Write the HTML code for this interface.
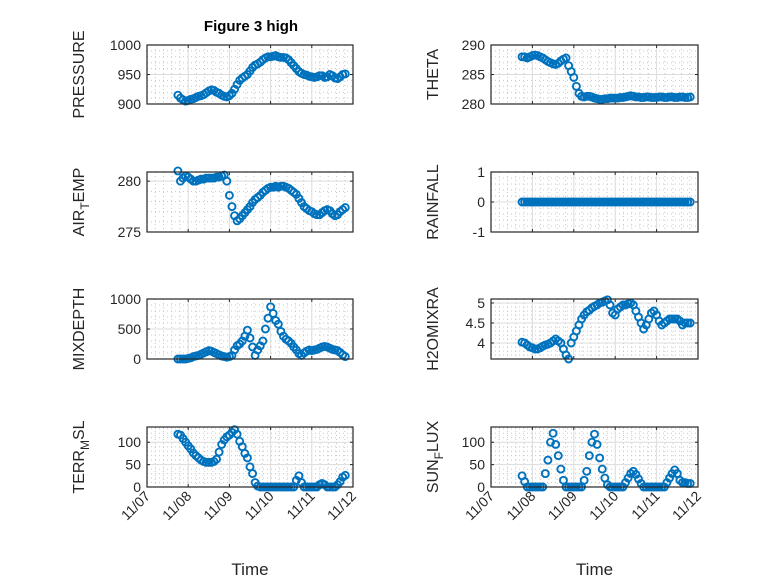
<!DOCTYPE html>
<html><head><meta charset="utf-8"><style>
body{margin:0;background:#fff;}
svg{font-family:"Liberation Sans",sans-serif;}
</style></head><body>
<svg id="fig" width="778" height="583" viewBox="0 0 778 583">
<rect width="778" height="583" fill="#fff"/>
<text x="251" y="31" text-anchor="middle" font-weight="bold" font-size="15" fill="#000">Figure 3 high</text>
</svg>
<script>
const days=[0.75,0.8125,0.875,0.9375,1.0,1.0625,1.125,1.1875,1.25,1.3125,1.375,1.4375,1.5,1.5625,1.625,1.6875,1.75,1.8125,1.875,1.9375,2.0,2.0625,2.125,2.1875,2.25,2.3125,2.375,2.4375,2.5,2.5625,2.625,2.6875,2.75,2.8125,2.875,2.9375,3.0,3.0625,3.125,3.1875,3.25,3.3125,3.375,3.4375,3.5,3.5625,3.625,3.6875,3.75,3.8125,3.875,3.9375,4.0,4.0625,4.125,4.1875,4.25,4.3125,4.375,4.4375,4.5,4.5625,4.625,4.6875,4.75,4.8125];
const xTickLabels=["11/07","11/08","11/09","11/10","11/11","11/12"];
const pressure=[915,910,907,905,906,908,909,911,913,914,916,919,922,924,923,920,918,915,913,912,914,918,925,933,940,944,947,950,956,962,966,968,971,975,978,980,980,981,982,980,979,979,978,975,970,965,960,955,952,950,949,947,946,945,946,948,948,945,946,950,948,944,943,946,950,951];
const theta=[288,288,287.8,288,288.2,288.3,288.2,288,287.8,287.5,287.2,287,286.8,286.7,286.9,287.3,287.6,287.8,286.5,285.5,284.5,283,281.8,281.3,281.2,281.3,281.3,281.2,281,280.9,280.8,280.8,280.9,280.9,281,281,281,281,281.1,281.1,281.2,281.3,281.4,281.3,281.2,281.2,281.1,281.1,281.2,281.2,281.1,281.1,281.1,281.2,281.2,281.1,281.1,281.2,281.2,281.1,281.1,281.2,281.2,281.1,281.1,281.2];
const airTemp=[281.0,280.0,280.3,280.5,280.4,280.2,280.0,280.0,280.1,280.2,280.2,280.3,280.3,280.3,280.3,280.4,280.4,280.5,280.6,280.0,278.6,277.5,276.6,276.1,276.3,276.6,276.9,277.2,277.5,277.9,278.2,278.4,278.6,278.9,279.1,279.3,279.4,279.4,279.5,279.4,279.5,279.5,279.4,279.3,279.1,278.9,278.7,278.3,277.9,277.5,277.3,277.1,277.0,276.8,276.7,276.7,276.9,277.1,277.2,277.1,276.8,276.6,276.7,277.0,277.2,277.4];
const rainfall=[0,0,0,0,0,0,0,0,0,0,0,0,0,0,0,0,0,0,0,0,0,0,0,0,0,0,0,0,0,0,0,0,0,0,0,0,0,0,0,0,0,0,0,0,0,0,0,0,0,0,0,0,0,0,0,0,0,0,0,0,0,0,0,0,0,0];
const mixDepth=[0,0,0,0,10,20,40,50,60,80,100,120,140,130,110,90,70,50,40,30,40,60,150,220,250,300,380,480,350,200,60,150,220,300,500,680,870,760,640,580,460,380,330,300,260,200,150,90,60,100,130,150,140,150,160,180,200,210,200,180,160,150,140,110,70,40];
const h2oMix=[4.02,4.0,3.95,3.9,3.88,3.85,3.85,3.88,3.92,3.95,3.97,4.0,4.05,4.1,4.05,4.0,3.85,3.7,3.6,4.0,4.15,4.3,4.45,4.6,4.7,4.78,4.82,4.88,4.92,4.95,5.0,5.02,5.05,5.08,4.95,4.75,4.7,4.85,4.9,4.95,4.95,4.98,5.0,4.95,4.8,4.65,4.5,4.35,4.45,4.6,4.75,4.8,4.7,4.55,4.45,4.5,4.55,4.6,4.6,4.6,4.6,4.55,4.45,4.5,4.5,4.5];
const terrMsl=[118,116,108,100,92,85,76,70,65,60,57,55,55,55,57,62,78,95,105,112,116,122,128,118,102,90,75,65,45,30,10,2,0,0,0,0,0,0,0,0,0,0,0,0,0,0,15,25,10,0,0,0,0,0,0,5,8,5,0,0,0,0,5,12,22,26];
const sunFlux=[25,12,0,0,0,0,0,0,0,30,60,100,120,95,70,40,15,0,0,0,0,0,0,0,15,35,70,100,118,95,65,40,20,5,0,0,0,0,0,0,10,20,30,35,28,18,8,0,0,0,0,0,0,0,0,0,10,20,30,38,30,15,10,10,8,8];

const svg=document.getElementById('fig');
const NS='http://www.w3.org/2000/svg';
function mk(tag,attrs,parent){const e=document.createElementNS(NS,tag);for(const k in attrs)e.setAttribute(k,attrs[k]);(parent||svg).appendChild(e);return e;}

const panels=[
 {name:'pressure',data:pressure,x0:147,x1:353,y0:45,y1:104,ymin:900,ymax:1000,ticks:[900,950,1000],minor:10,label:['PRESSURE'],lx:78},
 {name:'theta',data:theta,x0:491,x1:698,y0:45,y1:104,ymin:280,ymax:290,ticks:[280,285,290],minor:1,label:['THETA'],lx:432},
 {name:'air-temp',data:airTemp,x0:147,x1:353,y0:172,y1:232,ymin:275,ymax:280.9,ticks:[275,280],minor:1,label:['AIR','T','EMP'],lx:78},
 {name:'rainfall',data:rainfall,x0:491,x1:698,y0:172,y1:232,ymin:-1,ymax:1,ticks:[-1,0,1],minor:0.2,label:['RAINFALL'],lx:432},
 {name:'mixdepth',data:mixDepth,x0:147,x1:353,y0:299,y1:359,ymin:0,ymax:1000,ticks:[0,500,1000],minor:100,label:['MIXDEPTH'],lx:78},
 {name:'h2omixra',data:h2oMix,x0:491,x1:698,y0:299,y1:359,ymin:3.6,ymax:5.1,ticks:[4,4.5,5],minor:0.1,label:['H2OMIXRA'],lx:432},
 {name:'terr-msl',data:terrMsl,x0:147,x1:353,y0:427,y1:487,ymin:0,ymax:134,ticks:[0,50,100],minor:10,label:['TERR','M','SL'],lx:78},
 {name:'sun-flux',data:sunFlux,x0:491,x1:698,y0:427,y1:487,ymin:0,ymax:134,ticks:[0,50,100],minor:10,label:['SUN','F','LUX'],lx:432}
];

panels.forEach((p,pi)=>{
  const g=mk('g',{});
  
  
  const xs=d=>p.x0+d/5*(p.x1-p.x0);
  const ys=v=>p.y1-(v-p.ymin)/(p.ymax-p.ymin)*(p.y1-p.y0);
  mk('rect',{x:p.x0,y:p.y0,width:p.x1-p.x0,height:p.y1-p.y0,fill:'#fff'},g);
  for(let k=1;k<25;k++){ if(k%5===0)continue; const x=p.x0+k/25*(p.x1-p.x0);
    mk('line',{x1:x,x2:x,y1:p.y0,y2:p.y1,stroke:'#c8c8c8','stroke-width':1,'stroke-dasharray':'1,3'},g);}
  for(let k=Math.ceil(p.ymin/p.minor-1e-6);k*p.minor<=p.ymax+1e-6;k++){const v=k*p.minor;
    if(p.ticks.some(t=>Math.abs(t-v)<1e-6))continue; const y=ys(v);
    mk('line',{x1:p.x0,x2:p.x1,y1:y,y2:y,stroke:'#c8c8c8','stroke-width':1,'stroke-dasharray':'1,3'},g);}
  for(let k=1;k<5;k++){const x=xs(k);
    mk('line',{x1:x,x2:x,y1:p.y0,y2:p.y1,stroke:'#dcdcdc','stroke-width':1},g);
    mk('line',{x1:x,x2:x,y1:p.y1,y2:p.y1-3,stroke:'#262626','stroke-width':1},g);
    mk('line',{x1:x,x2:x,y1:p.y0,y2:p.y0+3,stroke:'#262626','stroke-width':1},g);}
  p.ticks.forEach(t=>{const y=ys(t);
    mk('line',{x1:p.x0,x2:p.x1,y1:y,y2:y,stroke:'#dcdcdc','stroke-width':1},g);
    mk('line',{x1:p.x0,x2:p.x0+3,y1:y,y2:y,stroke:'#262626'},g);
    mk('line',{x1:p.x1,x2:p.x1-3,y1:y,y2:y,stroke:'#262626'},g);
    const tl=mk('text',{x:p.x0-6,y:y+5,'text-anchor':'end','font-size':'14',fill:'#262626'},g);
    tl.textContent=String(t);
    
    
  });
  p.data.forEach((v,i)=>{
    const c=mk('circle',{cx:xs(days[i]),cy:ys(v),r:3.5,fill:'none',stroke:'#0072BD','stroke-width':1.9},g);
    
    
  });
  mk('rect',{x:p.x0,y:p.y0,width:p.x1-p.x0,height:p.y1-p.y0,fill:'none',stroke:'#262626','stroke-width':1.2},g);
  const cy=(p.y0+p.y1)/2;
  const yl=mk('text',{x:0,y:0,transform:`translate(${p.lx+6},${cy}) rotate(-90)`,'text-anchor':'middle','font-size':'16',fill:'#262626'},g);
  
  
  if(p.label.length===1){yl.textContent=p.label[0];}
  else{
    const a=document.createElementNS(NS,'tspan');a.textContent=p.label[0];yl.appendChild(a);
    const b=document.createElementNS(NS,'tspan');b.setAttribute('dy','5');b.setAttribute('font-size','12');b.textContent=p.label[1];yl.appendChild(b);
    const c=document.createElementNS(NS,'tspan');c.setAttribute('dy','-5');c.textContent=p.label[2];yl.appendChild(c);
  }
  if(pi>=6){
    xTickLabels.forEach((s,k)=>{const x=xs(k);
      const t=mk('text',{x:0,y:0,transform:`translate(${x+4},${p.y1+10}) rotate(-45)`,'text-anchor':'end','font-size':'14',fill:'#262626'},g);
      t.textContent=s;
      
      
    });
    const xl=mk('text',{x:(p.x0+p.x1)/2,y:575,'text-anchor':'middle','font-size':'17',fill:'#262626'},g);
    xl.textContent='Time';
    
    
  }
});
</script>
</body></html>
